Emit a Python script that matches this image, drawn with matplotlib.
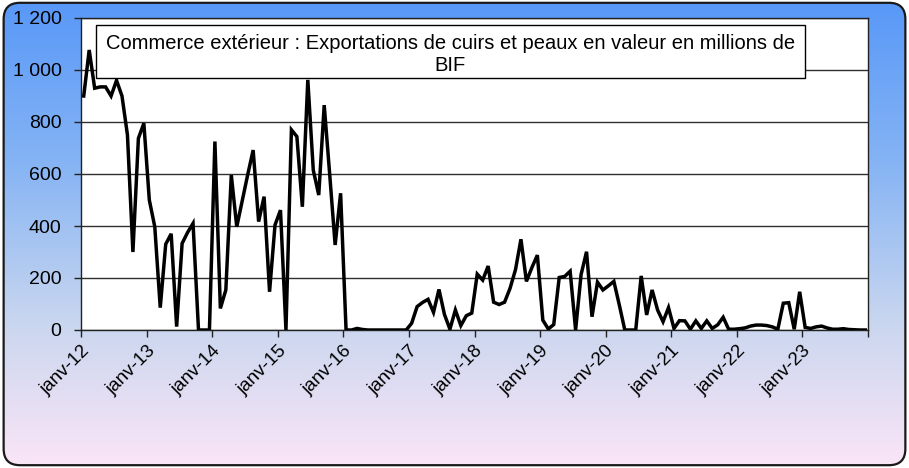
import numpy as np
import matplotlib
matplotlib.use('Agg')
import matplotlib.pyplot as plt
from matplotlib.colors import LinearSegmentedColormap
from matplotlib.patches import FancyBboxPatch, Rectangle

plt.rcParams['font.family'] = ['Liberation Sans', 'DejaVu Sans']

# monthly values, millions de BIF (jan 2012 - dec 2023)
v2012 = [900, 1077, 930, 935, 935, 900, 960, 900, 750, 300, 737, 795]
v2013 = [500, 397, 86, 330, 370, 13, 333, 375, 410, 0, 0, 0]
v2014 = [725, 83, 154, 596, 397, 497, 597, 692, 417, 513, 147, 404]
v2015 = [461, 0, 770, 744, 474, 962, 615, 519, 865, 600, 327, 526]
v2016 = [0, 0, 6, 2, 0, 0, 0, 0, 0, 0, 0, 0]
v2017 = [26, 90, 106, 118, 68, 156, 60, 3, 77, 17, 55, 65]
v2018 = [215, 192, 246, 107, 98, 107, 160, 232, 349, 187, 240, 288]
v2019 = [38, 4, 21, 202, 206, 226, 0, 213, 301, 51, 184, 154]
v2020 = [170, 187, 96, 0, 0, 0, 208, 58, 154, 77, 32, 86]
v2021 = [6, 36, 35, 3, 35, 6, 35, 6, 20, 49, 3, 3]
v2022 = [5, 8, 15, 19, 19, 17, 12, 3, 103, 105, 3, 147]
v2023 = [10, 6, 12, 15, 8, 3, 3, 5, 2, 1, 0, 0]

years = ['12', '13', '14', '15', '16', '17', '18', '19', '20', '21', '22', '23']
xlabels = ['janv-' + y for y in years]
title = "Commerce extérieur : Exportations de cuirs et peaux en valeur en millions de\nBIF"

values = np.array(v2012 + v2013 + v2014 + v2015 + v2016 + v2017 +
                  v2018 + v2019 + v2020 + v2021 + v2022 + v2023)
months = np.arange(len(values)) + 0.5

fig = plt.figure(figsize=(9.09, 4.68), dpi=100)

# background with rounded frame and vertical gradient
bg = fig.add_axes([0, 0, 1, 1])
bg.set_xlim(0, 1)
bg.set_ylim(0, 1)
bg.axis('off')
cmap = LinearSegmentedColormap.from_list(
    'bg', [(0.0, '#5898f8'), (0.35, '#86b4f4'), (0.7, '#cbd7ef'), (1.0, '#fbe5f7')])
grad = np.linspace(0, 1, 256).reshape(-1, 1)
im = bg.imshow(grad, aspect='auto', cmap=cmap, extent=[0, 1, 0, 1], origin='upper')
frame = FancyBboxPatch((0.004, 0.006), 0.992, 0.988,
                       boxstyle='round,pad=0,rounding_size=0.018',
                       mutation_aspect=909 / 468,
                       facecolor='none', edgecolor='#1a1a1a', lw=1.6)
bg.add_patch(frame)
im.set_clip_path(frame)

ax = fig.add_axes([81 / 909, 1 - 330 / 468, (868 - 81) / 909, (330 - 18) / 468])
ax.set_facecolor('white')
ax.plot(months, values, color='black', lw=2.5, solid_joinstyle='miter', zorder=3)

ax.set_xlim(0, 144)
ax.set_ylim(0, 1200)
ax.set_yticks(range(0, 1201, 200))
ax.set_yticklabels(['{:,}'.format(v).replace(',', ' ') for v in range(0, 1201, 200)],
                   fontsize=14)
ax.set_xticks(range(0, 145, 12))
ax.set_xticklabels(xlabels + [''], rotation=45, ha='right', rotation_mode='anchor',
                   fontsize=13.5)
ax.tick_params(axis='both', direction='out', length=5, width=1, color='#222222')
ax.tick_params(axis='y', pad=9)
ax.tick_params(axis='x', pad=4)
ax.grid(axis='y', color='#303030', lw=1)
ax.set_axisbelow(True)
for s in ax.spines.values():
    s.set_color('#222222')
    s.set_linewidth(1)

# title box
ax.add_patch(Rectangle((96 / 909, 1 - 78 / 468), (805 - 96) / 909, 53 / 468,
                       transform=fig.transFigure, facecolor='white',
                       edgecolor='black', lw=1, clip_on=False, zorder=5))
fig.text(450.5 / 909, 1 - 54.5 / 468, title, ha='center', va='center',
         fontsize=14.5, linespacing=1.2, zorder=6)

fig.savefig('out.png', dpi=100)
